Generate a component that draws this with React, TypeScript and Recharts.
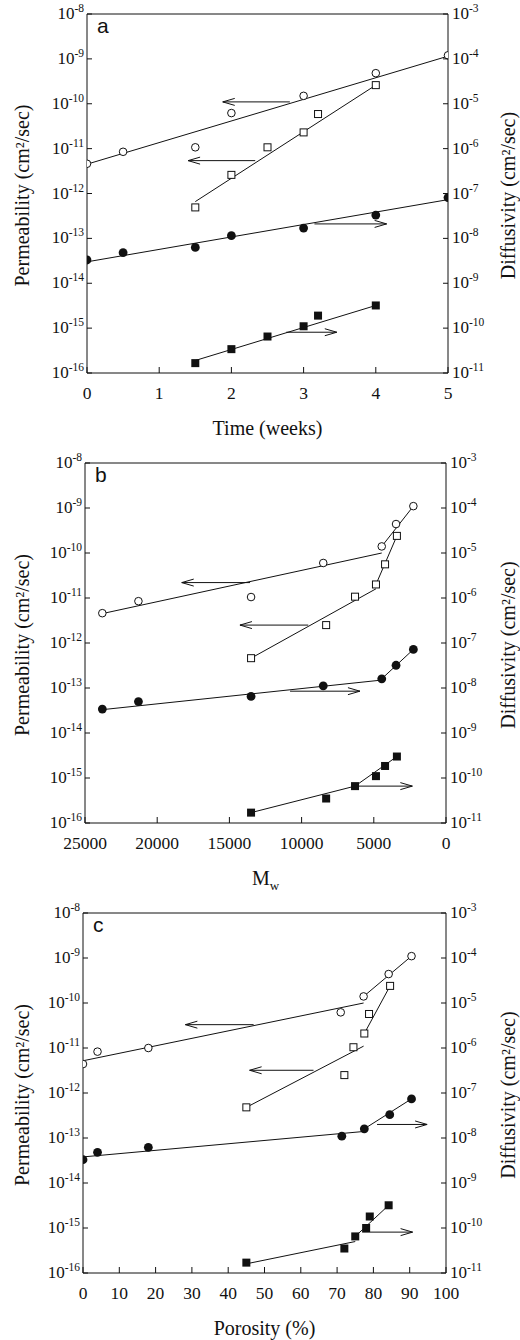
import React from "react";
import { ComposedChart, Line, Scatter, XAxis, YAxis, ReferenceLine } from "recharts";

const SERIF = '"Liberation Serif", "Times New Roman", serif';
const SANS = '"Liberation Sans", Arial, sans-serif';
const INK = "#111";

// axis ticks
const permTicks = [1e-16, 1e-15, 1e-14, 1e-13, 1e-12, 1e-11, 1e-10, 1e-9, 1e-8];
const diffTicks = [1e-11, 1e-10, 1e-9, 1e-8, 1e-7, 1e-6, 1e-5, 1e-4, 1e-3];
const timeTicks = [0, 1, 2, 3, 4, 5];
const mwTicks = [0, 5000, 10000, 15000, 20000, 25000];
const porosityTicks = [0, 10, 20, 30, 40, 50, 60, 70, 80, 90, 100];

// (a) time, weeks
const timeOpenCircleX = [0, 0.5, 1.5, 2, 3, 4, 5];
const timeOpenCircleY = [4.6e-12, 8.5e-12, 1.07e-11, 6.2e-11, 1.5e-10, 4.8e-10, 1.2e-9];
const timeOpenSquareX = [1.5, 2, 2.5, 3, 3.2, 4];
const timeOpenSquareY = [4.9e-13, 2.6e-12, 1.07e-11, 2.3e-11, 5.9e-11, 2.6e-10];
const timeFilledCircleX = [0, 0.5, 1.5, 2, 3, 4, 5];
const timeFilledCircleY = [3.3e-9, 4.8e-9, 6.3e-9, 1.15e-8, 1.7e-8, 3.3e-8, 8.1e-8];
const timeFilledSquareX = [1.5, 2, 2.5, 3, 3.2, 4];
const timeFilledSquareY = [1.66e-11, 3.4e-11, 6.5e-11, 1.1e-10, 1.9e-10, 3.2e-10];

// (b) Mw
const mwOpenCircleX = [23800, 21300, 13500, 8500, 4450, 3460, 2260];
const mwOpenCircleY = [4.6e-12, 8.5e-12, 1.05e-11, 6.0e-11, 1.4e-10, 4.4e-10, 1.1e-9];
const mwOpenSquareX = [13500, 8300, 6300, 4850, 4220, 3400];
const mwOpenSquareY = [4.6e-13, 2.5e-12, 1.07e-11, 2.0e-11, 5.6e-11, 2.4e-10];
const mwFilledCircleX = [23800, 21300, 13500, 8500, 4450, 3460, 2260];
const mwFilledCircleY = [3.4e-9, 5.0e-9, 6.5e-9, 1.12e-8, 1.6e-8, 3.2e-8, 7.2e-8];
const mwFilledSquareX = [13500, 8300, 6300, 4850, 4220, 3400];
const mwFilledSquareY = [1.7e-11, 3.5e-11, 6.6e-11, 1.1e-10, 1.85e-10, 3.0e-10];

// (c) porosity, %
const porOpenCircleX = [0, 4, 18, 71, 77.3, 84.2, 90.5];
const porOpenCircleY = [4.4e-12, 8.3e-12, 1.0e-11, 6.2e-11, 1.4e-10, 4.4e-10, 1.1e-9];
const porOpenSquareX = [45, 72, 74.5, 77.5, 78.8, 84.6];
const porOpenSquareY = [4.8e-13, 2.5e-12, 1.04e-11, 2.1e-11, 5.7e-11, 2.4e-10];
const porFilledCircleX = [0, 4, 18, 71.3, 77.5, 84.5, 90.5];
const porFilledCircleY = [3.3e-9, 4.8e-9, 6.2e-9, 1.1e-8, 1.6e-8, 3.3e-8, 7.4e-8];
const porFilledSquareX = [45, 72, 75, 78, 79, 84.2];
const porFilledSquareY = [1.7e-11, 3.5e-11, 6.5e-11, 1.0e-10, 1.8e-10, 3.2e-10];

// fitted line segments: [x0, x1], [y0, y1], axis
type Fit = { x: number[]; y: number[]; axis: "perm" | "diff" };
const timeFits: Fit[] = [
  { x: [0, 5], y: [4.5e-12, 1.15e-9], axis: "perm" },
  { x: [1.5, 4], y: [6.6e-13, 2.6e-10], axis: "perm" },
  { x: [0, 5], y: [3.0e-9, 7.3e-8], axis: "diff" },
  { x: [1.5, 4], y: [1.9e-11, 3.2e-10], axis: "diff" },
];
const mwFits: Fit[] = [
  { x: [23800, 4450], y: [4.5e-12, 1.0e-10], axis: "perm" },
  { x: [4450, 2260], y: [1.4e-10, 1.1e-9], axis: "perm" },
  { x: [13500, 4850], y: [4.6e-13, 1.6e-11], axis: "perm" },
  { x: [4850, 3400], y: [2.0e-11, 2.4e-10], axis: "perm" },
  { x: [23800, 4450], y: [3.3e-9, 1.5e-8], axis: "diff" },
  { x: [4450, 2260], y: [1.6e-8, 7.2e-8], axis: "diff" },
  { x: [13500, 6300], y: [1.7e-11, 6.6e-11], axis: "diff" },
  { x: [6300, 3400], y: [6.6e-11, 3.0e-10], axis: "diff" },
];
const porFits: Fit[] = [
  { x: [0, 77.3], y: [5.2e-12, 1.0e-10], axis: "perm" },
  { x: [77.3, 90.5], y: [1.4e-10, 1.1e-9], axis: "perm" },
  { x: [45, 77.3], y: [4.8e-13, 1.1e-11], axis: "perm" },
  { x: [77.5, 84.6], y: [2.1e-11, 2.4e-10], axis: "perm" },
  { x: [0, 77.5], y: [3.8e-9, 1.4e-8], axis: "diff" },
  { x: [77.5, 90.5], y: [1.6e-8, 7.4e-8], axis: "diff" },
  { x: [45, 75], y: [1.6e-11, 5.0e-11], axis: "diff" },
  { x: [75, 84.2], y: [6.5e-11, 3.2e-10], axis: "diff" },
];

// arrows: from x0 to x1 at level y
type Arrow = { x: number[]; y: number; axis: "perm" | "diff" };
const timeArrows: Arrow[] = [
  { x: [2.81, 1.88], y: 1.1e-10, axis: "perm" },
  { x: [2.33, 1.4], y: 5.4e-12, axis: "perm" },
  { x: [3.15, 4.15], y: 2.1e-8, axis: "diff" },
  { x: [2.76, 3.46], y: 8.1e-11, axis: "diff" },
];
const mwArrows: Arrow[] = [
  { x: [13570, 18300], y: 2.2e-11, axis: "perm" },
  { x: [9540, 14270], y: 2.5e-12, axis: "perm" },
  { x: [10800, 5960], y: 8.5e-9, axis: "diff" },
  { x: [6180, 2330], y: 6.6e-11, axis: "diff" },
];
const porArrows: Arrow[] = [
  { x: [47, 28.2], y: 3.3e-11, axis: "perm" },
  { x: [63.5, 45.9], y: 3.2e-12, axis: "perm" },
  { x: [81, 94.8], y: 2.0e-8, axis: "diff" },
  { x: [76.9, 90.8], y: 8.1e-11, axis: "diff" },
];

const pts = (xs: number[], ys: number[]) => xs.map((x, i) => ({ x, y: ys[i] }));
const exp10 = (v: number) => String(Math.round(Math.log10(v)));

const OpenCircle = (p: any) => (
  <circle cx={p.cx} cy={p.cy} r={3.8} fill="#fff" stroke={INK} strokeWidth={1} />
);
const FilledCircle = (p: any) => <circle cx={p.cx} cy={p.cy} r={4.4} fill={INK} />;
const OpenSquare = (p: any) => (
  <rect x={p.cx - 3.5} y={p.cy - 3.5} width={7} height={7} fill="#fff" stroke={INK} strokeWidth={1} />
);
const FilledSquare = (p: any) => <rect x={p.cx - 4} y={p.cy - 4} width={8} height={8} fill={INK} />;

function ArrowShape(p: any) {
  const { x1, y1, x2, y2 } = p;
  const dir = x2 > x1 ? 1 : -1;
  return (
    <g>
      <line x1={x1} y1={y1} x2={x2} y2={y2} stroke={INK} strokeWidth={1} />
      <path
        d={`M${x2 - dir * 12},${y2 - 3.5} L${x2},${y2} L${x2 - dir * 12},${y2 + 3.5}`}
        fill="none"
        stroke={INK}
        strokeWidth={1}
      />
    </g>
  );
}

function LeftTick(p: any) {
  const { x, y, payload } = p;
  return (
    <g>
      <line x1={x} x2={x + 5} y1={y} y2={y} stroke={INK} />
      <text x={x - 3} y={y + 5} textAnchor="end" fontFamily={SERIF} fontSize={17} fill={INK}>
        10
        <tspan dy={-7} fontSize={11.5}>
          {exp10(payload.value)}
        </tspan>
      </text>
    </g>
  );
}

function RightTick(p: any) {
  const { x, y, payload } = p;
  return (
    <g>
      <line x1={x - 5} x2={x} y1={y} y2={y} stroke={INK} />
      <text x={x + 4} y={y + 5} textAnchor="start" fontFamily={SERIF} fontSize={17} fill={INK}>
        10
        <tspan dy={-7} fontSize={11.5}>
          {exp10(payload.value)}
        </tspan>
      </text>
    </g>
  );
}

function BottomTick(p: any) {
  const { x, y, payload } = p;
  return (
    <g>
      <line x1={x} x2={x} y1={y} y2={y - 6} stroke={INK} />
      <text x={x} y={y + 26} textAnchor="middle" fontFamily={SERIF} fontSize={17.5} fill={INK}>
        {payload.value}
      </text>
    </g>
  );
}

type PanelProps = {
  letter: string;
  top: number;
  height: number;
  plotH: number;
  left: number;
  rightW: number;
  xDomain: [number, number];
  xTicks: number[];
  reversed?: boolean;
  xTitle: React.ReactNode;
  openCircle: { x: number; y: number }[];
  openSquare: { x: number; y: number }[];
  filledCircle: { x: number; y: number }[];
  filledSquare: { x: number; y: number }[];
  fits: Fit[];
  arrows: Arrow[];
};

const W = 520;
const MT = 14;

function Panel(props: PanelProps) {
  const { left, rightW, height, plotH } = props;
  const xh = height - MT - plotH;
  const plotBottom = MT + plotH;
  const plotMid = MT + plotH / 2 + 2;
  const plotCenterX = (left + (W - rightW)) / 2;

  const yTitle = () => (
    <g>
      <text
        transform={`translate(22, ${plotMid}) rotate(-90)`}
        textAnchor="middle"
        dominantBaseline="central"
        fontFamily={SERIF}
        fontSize={20}
        fill={INK}
      >
        Permeability (cm²/sec)
      </text>
      <text x={left + 10} y={MT + 19} fontFamily={SANS} fontSize={21} fill={INK}>
        {props.letter}
      </text>
    </g>
  );
  const yTitleRight = () => (
    <text
      transform={`translate(508, ${plotMid}) rotate(-90)`}
      textAnchor="middle"
      dominantBaseline="central"
      fontFamily={SERIF}
      fontSize={20}
      fill={INK}
    >
      Diffusivity (cm²/sec)
    </text>
  );
  const xTitle = () => (
    <g transform={`translate(${plotCenterX}, ${plotBottom + 62})`}>{props.xTitle}</g>
  );

  return (
    <div style={{ position: "absolute", left: 0, top: props.top, width: W, height }}>
      <ComposedChart width={W} height={height} margin={{ top: MT, right: 0, bottom: 0, left: 0 }}>
        <XAxis
          dataKey="x"
          type="number"
          domain={props.xDomain}
          ticks={props.xTicks}
          reversed={props.reversed}
          interval={0}
          height={xh}
          tickSize={0}
          tickMargin={0}
          tick={<BottomTick />}
          axisLine={{ stroke: INK }}
          allowDataOverflow
          label={xTitle}
        />
        <YAxis
          yAxisId="perm"
          orientation="left"
          scale="log"
          type="number"
          domain={[1e-16, 1e-8]}
          ticks={permTicks}
          interval={0}
          width={left}
          tickSize={0}
          tickMargin={0}
          tick={<LeftTick />}
          axisLine={{ stroke: INK }}
          allowDataOverflow
          label={yTitle}
        />
        <YAxis
          yAxisId="diff"
          orientation="right"
          scale="log"
          type="number"
          domain={[1e-11, 1e-3]}
          ticks={diffTicks}
          interval={0}
          width={rightW}
          tickSize={0}
          tickMargin={0}
          tick={<RightTick />}
          axisLine={{ stroke: INK }}
          allowDataOverflow
          label={yTitleRight}
        />
        <ReferenceLine yAxisId="perm" y={1e-8} stroke={INK} ifOverflow="visible" />
        {props.fits.map((f, i) => (
          <Line
            key={`fit-${i}`}
            yAxisId={f.axis}
            data={pts(f.x, f.y)}
            dataKey="y"
            stroke={INK}
            strokeWidth={1}
            dot={false}
            activeDot={false}
            isAnimationActive={false}
          />
        ))}
        {props.arrows.map((a, i) => (
          <ReferenceLine
            key={`arr-${i}`}
            yAxisId={a.axis}
            segment={[
              { x: a.x[0], y: a.y },
              { x: a.x[1], y: a.y },
            ]}
            shape={ArrowShape}
            ifOverflow="visible"
          />
        ))}
        <Scatter yAxisId="perm" data={props.openCircle} dataKey="y" shape={OpenCircle} isAnimationActive={false} />
        <Scatter yAxisId="perm" data={props.openSquare} dataKey="y" shape={OpenSquare} isAnimationActive={false} />
        <Scatter yAxisId="diff" data={props.filledCircle} dataKey="y" shape={FilledCircle} isAnimationActive={false} />
        <Scatter yAxisId="diff" data={props.filledSquare} dataKey="y" shape={FilledSquare} isAnimationActive={false} />
      </ComposedChart>
    </div>
  );
}

const titleStyle = { fontFamily: SERIF, fontSize: 20, fill: INK } as const;

export default function App() {
  return (
    <div style={{ position: "absolute", left: 0, top: 0, width: W, height: 1340, background: "#fff" }}>
      <Panel
        letter="a"
        top={0}
        height={444}
        plotH={359}
        left={87}
        rightW={72}
        xDomain={[0, 5]}
        xTicks={timeTicks}
        xTitle={
          <text textAnchor="middle" {...titleStyle}>
            Time (weeks)
          </text>
        }
        openCircle={pts(timeOpenCircleX, timeOpenCircleY)}
        openSquare={pts(timeOpenSquareX, timeOpenSquareY)}
        filledCircle={pts(timeFilledCircleX, timeFilledCircleY)}
        filledSquare={pts(timeFilledSquareX, timeFilledSquareY)}
        fits={timeFits}
        arrows={timeArrows}
      />
      <Panel
        letter="b"
        top={449}
        height={448}
        plotH={360}
        left={85}
        rightW={74}
        xDomain={[0, 25000]}
        xTicks={mwTicks}
        reversed
        xTitle={
          <text textAnchor="middle" {...titleStyle}>
            M
            <tspan dy={5} fontSize={13}>
              w
            </tspan>
          </text>
        }
        openCircle={pts(mwOpenCircleX, mwOpenCircleY)}
        openSquare={pts(mwOpenSquareX, mwOpenSquareY)}
        filledCircle={pts(mwFilledCircleX, mwFilledCircleY)}
        filledSquare={pts(mwFilledSquareX, mwFilledSquareY)}
        fits={mwFits}
        arrows={mwArrows}
      />
      <Panel
        letter="c"
        top={899}
        height={441}
        plotH={360}
        left={83}
        rightW={74}
        xDomain={[0, 100]}
        xTicks={porosityTicks}
        xTitle={
          <text textAnchor="middle" {...titleStyle}>
            Porosity (%)
          </text>
        }
        openCircle={pts(porOpenCircleX, porOpenCircleY)}
        openSquare={pts(porOpenSquareX, porOpenSquareY)}
        filledCircle={pts(porFilledCircleX, porFilledCircleY)}
        filledSquare={pts(porFilledSquareX, porFilledSquareY)}
        fits={porFits}
        arrows={porArrows}
      />
    </div>
  );
}
